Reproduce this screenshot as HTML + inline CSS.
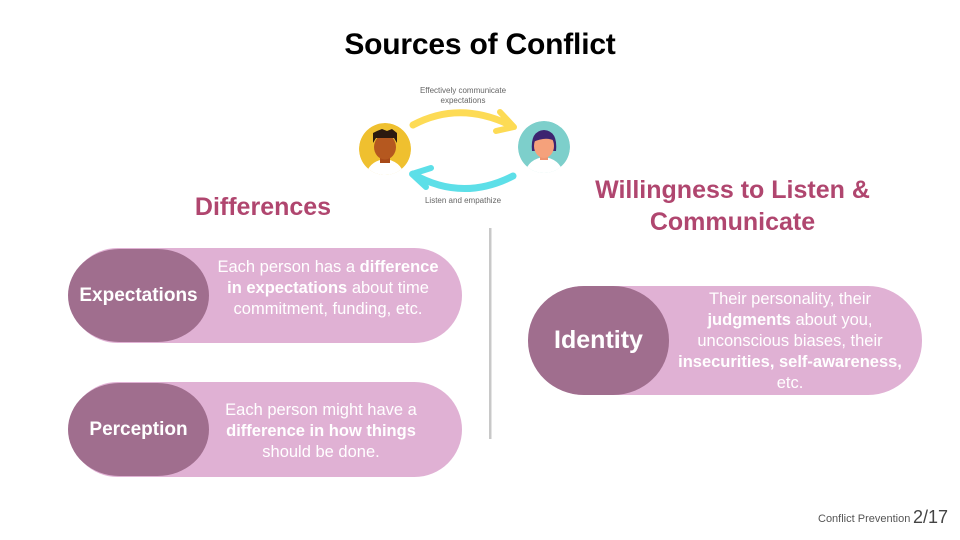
<!DOCTYPE html>
<html>
<head>
<meta charset="utf-8">
<style>
  html,body{margin:0;padding:0;}
  body{width:960px;height:540px;background:#fff;position:relative;overflow:hidden;font-family:"Liberation Sans",sans-serif;}
  .abs{position:absolute;}
  .title{left:0;width:960px;top:28px;text-align:center;font-weight:bold;font-size:30px;color:#000;letter-spacing:-0.2px;}
  .h2{font-weight:bold;color:#b0466f;font-size:25px;text-align:center;}
  .outer{background:#e0b1d4;border-radius:48px;}
  .inner{background:#a06e8e;border-radius:52px / 47px;color:#fff;font-weight:bold;display:flex;align-items:center;justify-content:center;}
  .txt{color:#fff;font-size:16.5px;line-height:21px;text-align:center;}
  .txt b{font-weight:bold;}
</style>
</head>
<body>
<div class="abs title">Sources of Conflict</div>

<svg class="abs" style="left:0;top:0" width="960" height="540" viewBox="0 0 960 540">
  <path d="M413,125 Q460,100 512,126" fill="none" stroke="#fddb55" stroke-width="7" stroke-linecap="round"/>
  <polyline points="500,112 514,127 496,131" fill="none" stroke="#fddb55" stroke-width="6" stroke-linecap="round" stroke-linejoin="round"/>
  <path d="M513,176 Q462,202 413,174" fill="none" stroke="#5ddfe8" stroke-width="7" stroke-linecap="round"/>
  <polyline points="431,168 412,174 426,187" fill="none" stroke="#5ddfe8" stroke-width="6" stroke-linecap="round" stroke-linejoin="round"/>
  <defs>
    <clipPath id="c1"><circle cx="385" cy="149" r="26"/></clipPath>
    <clipPath id="c2"><circle cx="544" cy="147" r="26"/></clipPath>
  </defs>
  <g clip-path="url(#c1)">
    <circle cx="385" cy="149" r="26" fill="#efc02f"/>
    <path d="M365,178 Q368,161 385,159 Q402,161 405,178 Z" fill="#fff"/>
    <rect x="380" y="153" width="10" height="10" fill="#a84a18"/>
    <ellipse cx="385" cy="147" rx="11" ry="12.5" fill="#b5581f"/>
    <path d="M373,143 L373,133 L377,131 L382,129 L387,131 L392,129 L397,133 L397,143 L394,138 L376,138 Z" fill="#2b1a10"/>
  </g>
  <g clip-path="url(#c2)">
    <circle cx="544" cy="147" r="26" fill="#7dcfcb"/>
    <path d="M524,176 Q527,159 544,157 Q561,159 564,176 Z" fill="#fff"/>
    <path d="M532,151 Q530,131 544,130 Q558,131 556,151 Z" fill="#3d2470"/>
    <rect x="540" y="151" width="8" height="9" fill="#ee9470"/>
    <ellipse cx="544" cy="146" rx="10" ry="12" fill="#f5a17b"/>
    <path d="M533,142 Q535,131 546,132 Q555,134 555,141 Q546,136 533,142 Z" fill="#3d2470"/>
  </g>
  <text x="463" y="93" font-family="Liberation Sans, sans-serif" font-size="8" fill="#666" text-anchor="middle">Effectively communicate</text>
  <text x="463" y="103" font-family="Liberation Sans, sans-serif" font-size="8" fill="#666" text-anchor="middle">expectations</text>
  <text x="463" y="203" font-family="Liberation Sans, sans-serif" font-size="8" fill="#666" text-anchor="middle">Listen and empathize</text>
  <rect x="489" y="228" width="2.5" height="211" fill="#c8c8c8"/>
</svg>

<div class="abs h2" style="left:163px;width:200px;top:193px;">Differences</div>
<div class="abs h2" style="left:560px;width:345px;top:174px;line-height:32px;">Willingness to Listen &amp;<br>Communicate</div>

<div class="abs outer" style="left:70px;top:248px;width:392px;height:95px;"></div>
<div class="abs inner" style="left:68px;top:249px;width:141px;height:93px;font-size:19px;">Expectations</div>
<div class="abs txt" style="left:208px;top:257px;width:240px;">Each person has a <b>difference in expectations</b> about time commitment, funding, etc.</div>

<div class="abs outer" style="left:70px;top:382px;width:392px;height:95px;"></div>
<div class="abs inner" style="left:68px;top:383px;width:141px;height:93px;font-size:19px;">Perception</div>
<div class="abs txt" style="left:211px;top:400px;width:220px;">Each person might have a <b>difference in how things</b> should be done.</div>

<div class="abs outer" style="left:530px;top:286px;width:392px;height:109px;border-radius:54px;"></div>
<div class="abs inner" style="left:528px;top:286px;width:141px;height:109px;font-size:25px;border-radius:56px / 54px;">Identity</div>
<div class="abs txt" style="left:670px;top:289px;width:240px;">Their personality, their <b>judgments</b> about you, unconscious biases, their <b>insecurities, self-awareness,</b> etc.</div>

<div class="abs" style="left:818px;top:513px;font-size:11px;color:#555;">Conflict Prevention</div>
<div class="abs" style="left:913px;top:507px;font-size:18px;color:#444;">2/17</div>
</body>
</html>
